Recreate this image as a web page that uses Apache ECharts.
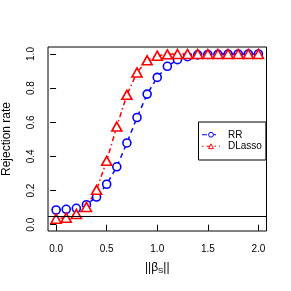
<!DOCTYPE html>
<html><head><meta charset="utf-8">
<script src="https://cdn.jsdelivr.net/npm/echarts@6/dist/echarts.min.js"></script>
<style>html,body{margin:0;padding:0;background:#fff}#c{width:291px;height:291px}</style>
</head><body><div id="c"></div>
<script>
var xs = [0,0.1,0.2,0.3,0.4,0.5,0.6,0.7,0.8,0.9,1.0,1.1,1.2,1.3,1.4,1.5,1.6,1.7,1.8,1.9,2.0];
var rr = [0.086,0.090,0.096,0.117,0.162,0.237,0.339,0.479,0.628,0.765,0.863,0.928,0.967,0.984,0.995,0.997,0.998,0.999,1.0,1.0,1.0];
var dlasso = [0.035,0.041,0.063,0.104,0.204,0.374,0.575,0.761,0.892,0.963,0.990,0.998,1.0,1.0,1.0,1.0,1.0,1.0,1.0,1.0,1.0];
var xTicks = [0,0.5,1.0,1.5,2.0];
var yTicks = [0,0.2,0.4,0.6,0.8,1.0];
var refLevel = 0.05;
var FONT = 'Liberation Sans';
var chart = echarts.init(document.getElementById('c'), null, {renderer:'canvas'});
function pairs(v){ return xs.map(function(x,i){return [x,v[i]];}); }
chart.setOption({
  animation:false,
  backgroundColor:'#fff',
  grid:{left:48,right:24.5,top:47,bottom:60,outerBoundsMode:'none',containLabel:false,show:true,borderColor:'#000',borderWidth:1,backgroundColor:'transparent'},
  xAxis:{type:'value',min:-0.08,max:2.08,
    name:'{n|||β}{s|S}{n|||}',nameLocation:'middle',nameGap:30,
    nameTextStyle:{rich:{n:{fontFamily:FONT,fontSize:12,color:'#000'},s:{fontFamily:FONT,fontSize:8,color:'#000',verticalAlign:'bottom',padding:[6,0,0,0]}}},
    axisLine:{show:false},splitLine:{show:false},
    axisTick:{show:true,length:6,inside:false,customValues:xTicks,lineStyle:{color:'#000'}},
    axisLabel:{customValues:xTicks,margin:13,fontFamily:FONT,fontSize:10,color:'#000',formatter:function(v){return v.toFixed(1);}}
  },
  yAxis:{type:'value',min:-0.037,max:1.041,
    name:'Rejection rate',nameLocation:'middle',nameGap:35,nameRotate:90,
    nameTextStyle:{fontFamily:FONT,fontSize:12,color:'#000'},
    axisLine:{show:false},splitLine:{show:false},
    axisTick:{show:true,length:6,customValues:yTicks,lineStyle:{color:'#000'}},
    axisLabel:{customValues:yTicks,rotate:90,margin:12,fontFamily:FONT,fontSize:10,color:'#000',formatter:function(v){return v.toFixed(1);}}
  },
  legend:{orient:'vertical',left:198.5,top:122,
    data:['RR','DLasso'],
    borderColor:'#000',borderWidth:1,borderRadius:0,
    padding:[7,4,8,3],itemGap:0,itemWidth:18,itemHeight:6,
    itemStyle:{borderWidth:1},lineStyle:{width:1},
    textStyle:{fontFamily:FONT,fontSize:10,lineHeight:11.5,color:'#000',padding:[0,0,0,3]}
  },
  series:[
    {name:'RR',type:'line',data:pairs(rr),symbol:'circle',symbolSize:8,showSymbol:true,
     itemStyle:{color:'#fff',borderColor:'#0000ff',borderWidth:1.6},
     lineStyle:{color:'#0000ff',width:1.5,type:[5,4]},
     markLine:{silent:true,symbol:'none',label:{show:false},lineStyle:{color:'#000',type:'solid',width:1},data:[{yAxis:refLevel}]}
    },
    {name:'DLasso',type:'line',data:pairs(dlasso),symbol:'triangle',symbolSize:[10,9],showSymbol:true,
     itemStyle:{color:'#fff',borderColor:'#ff0000',borderWidth:1.6},
     lineStyle:{color:'#ff0000',width:1.5,type:[1.5,3,5,3]}
    }
  ]
});
</script></body></html>
